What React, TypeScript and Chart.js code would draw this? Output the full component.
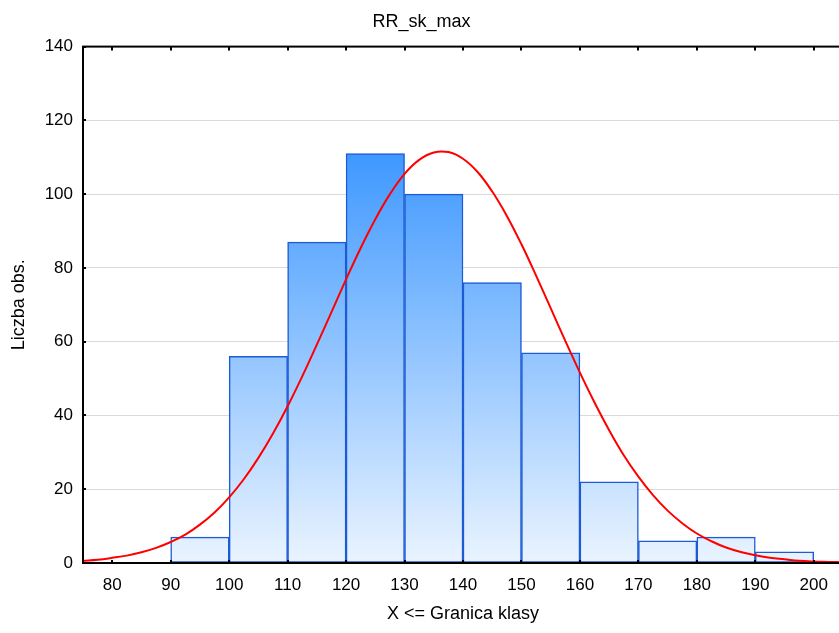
import { useEffect, useRef } from 'react';
import { Chart, registerables } from 'chart.js';

Chart.register(...registerables);

const chartTitle = 'RR_sk_max';
const xAxisTitle = 'X <= Granica klasy';
const yAxisTitle = 'Liczba obs.';

// histogram bins (class centers) and counts
const binCenters = [85, 95, 105, 115, 125, 135, 145, 155, 165, 175, 185, 195];
const binCounts = [0, 7, 56, 87, 111, 100, 76, 57, 22, 6, 7, 3];

// fitted normal curve
const curveX = [
  75, 77.5, 80, 82.5, 85, 87.5, 90, 92.5, 95, 97.5, 100, 102.5, 105, 107.5, 110, 112.5,
  115, 117.5, 120, 122.5, 125, 127.5, 130, 132.5, 135, 137.5, 140, 142.5, 145, 147.5,
  150, 152.5, 155, 157.5, 160, 162.5, 165, 167.5, 170, 172.5, 175, 177.5, 180, 182.5,
  185, 187.5, 190, 192.5, 195, 197.5, 200, 202.5, 205,
];
const curveY = [
  0.6, 0.9, 1.4, 2.0, 2.9, 4.1, 5.7, 7.7, 10.4, 13.7, 17.8, 22.7, 28.5, 35.1, 42.5, 50.6,
  59.2, 68.0, 76.9, 85.4, 93.2, 100.0, 105.5, 109.3, 111.3, 111.4, 109.6, 106.0, 100.7, 94.1,
  86.4, 77.9, 69.1, 60.2, 51.6, 43.5, 36.0, 29.2, 23.4, 18.4, 14.2, 10.8, 8.0, 5.9,
  4.2, 3.0, 2.1, 1.4, 1.0, 0.6, 0.4, 0.3, 0.2,
];

const xTicks = [80, 90, 100, 110, 120, 130, 140, 150, 160, 170, 180, 190, 200];
const yTicks = [0, 20, 40, 60, 80, 100, 120, 140];
const xMin = 75;
const xMax = 205;
const yMin = 0;
const yMax = 140;

const FONT = "'Liberation Sans', Arial, sans-serif";

const framePlugin = {
  id: 'frame',
  afterDatasetsDraw(chart: any) {
    const { ctx, chartArea: a, scales } = chart;
    ctx.save();
    ctx.strokeStyle = '#000';
    ctx.lineWidth = 2;
    ctx.strokeRect(a.left, a.top, a.right - a.left, a.bottom - a.top);
    ctx.lineWidth = 2;
    ctx.beginPath();
    xTicks.forEach((v) => {
      const px = Math.round(scales.x.getPixelForValue(v));
      ctx.moveTo(px, a.top);
      ctx.lineTo(px, a.top + 4);
      ctx.moveTo(px, a.bottom);
      ctx.lineTo(px, a.bottom - 3);
    });
    yTicks.forEach((v) => {
      const py = Math.round(scales.y.getPixelForValue(v));
      ctx.moveTo(a.left, py);
      ctx.lineTo(a.left + 3, py);
      ctx.moveTo(a.right, py);
      ctx.lineTo(a.right - 3, py);
    });
    ctx.stroke();
    ctx.restore();
  },
};

export default function App() {
  const ref = useRef<HTMLCanvasElement | null>(null);

  useEffect(() => {
    const canvas = ref.current;
    if (!canvas) return;
    const chart = new Chart(canvas, {
      type: 'bar',
      data: {
        datasets: [
          {
            type: 'line',
            data: curveX.map((x, i) => ({ x, y: curveY[i] })),
            borderColor: '#FF0000',
            borderWidth: 2,
            pointRadius: 0,
            tension: 0.4,
            fill: false,
            order: 0,
          } as any,
          {
            type: 'bar',
            data: binCenters.map((x, i) => ({ x, y: binCounts[i] })),
            backgroundColor: (c: any) => {
              const { chart: ch } = c;
              const area = ch.chartArea;
              if (!area) return '#8cc4ff';
              const g = ch.ctx.createLinearGradient(0, area.bottom, 0, area.top);
              g.addColorStop(0, 'rgb(234,244,255)');
              g.addColorStop(1, 'rgb(18,128,255)');
              return g;
            },
            borderColor: '#1C5BD4',
            borderWidth: 1.5,
            borderSkipped: false,
            barPercentage: 1,
            categoryPercentage: 1,
            grouped: false,
            order: 1,
          } as any,
        ],
      },
      options: {
        responsive: false,
        animation: false,
        layout: { padding: { left: 0, right: 7, top: 0, bottom: 0 } },
        plugins: {
          legend: { display: false },
          tooltip: { enabled: false },
          title: {
            display: true,
            text: chartTitle,
            color: '#000',
            font: { family: FONT, size: 18, weight: 'normal' },
            padding: { top: 11, bottom: 14 },
          },
        },
        scales: {
          x: {
            type: 'linear',
            min: xMin,
            max: xMax,
            offset: false,
            afterBuildTicks: (s: any) => {
              s.ticks = xTicks.map((v) => ({ value: v }));
            },
            afterFit: (s: any) => {
              s.height = 70;
            },
            grid: { display: false, drawTicks: false },
            border: { display: false },
            ticks: {
              color: '#000',
              font: { family: FONT, size: 17 },
              padding: 12,
              maxRotation: 0,
              autoSkip: false,
            },
            title: {
              display: true,
              text: xAxisTitle,
              color: '#000',
              font: { family: FONT, size: 18 },
              padding: { top: 0, bottom: 8 },
            },
          },
          y: {
            min: yMin,
            max: yMax,
            afterBuildTicks: (s: any) => {
              s.ticks = yTicks.map((v) => ({ value: v }));
            },
            afterFit: (s: any) => {
              s.width = 83;
            },
            grid: { color: '#DADADA', lineWidth: 1, drawTicks: false },
            border: { display: false },
            ticks: {
              color: '#000',
              font: { family: FONT, size: 17 },
              padding: 10,
            },
            title: {
              display: true,
              text: yAxisTitle,
              color: '#000',
              font: { family: FONT, size: 18 },
              padding: { top: 8, bottom: 0 },
            },
          },
        },
      },
      plugins: [framePlugin],
    });
    return () => chart.destroy();
  }, []);

  return (
    <div style={{ position: 'fixed', left: 0, top: 0, width: 839, height: 633, overflow: 'hidden', background: '#fff' }}>
      <canvas ref={ref} width={850} height={633} style={{ display: 'block', width: 850, height: 633 }} />
    </div>
  );
}
